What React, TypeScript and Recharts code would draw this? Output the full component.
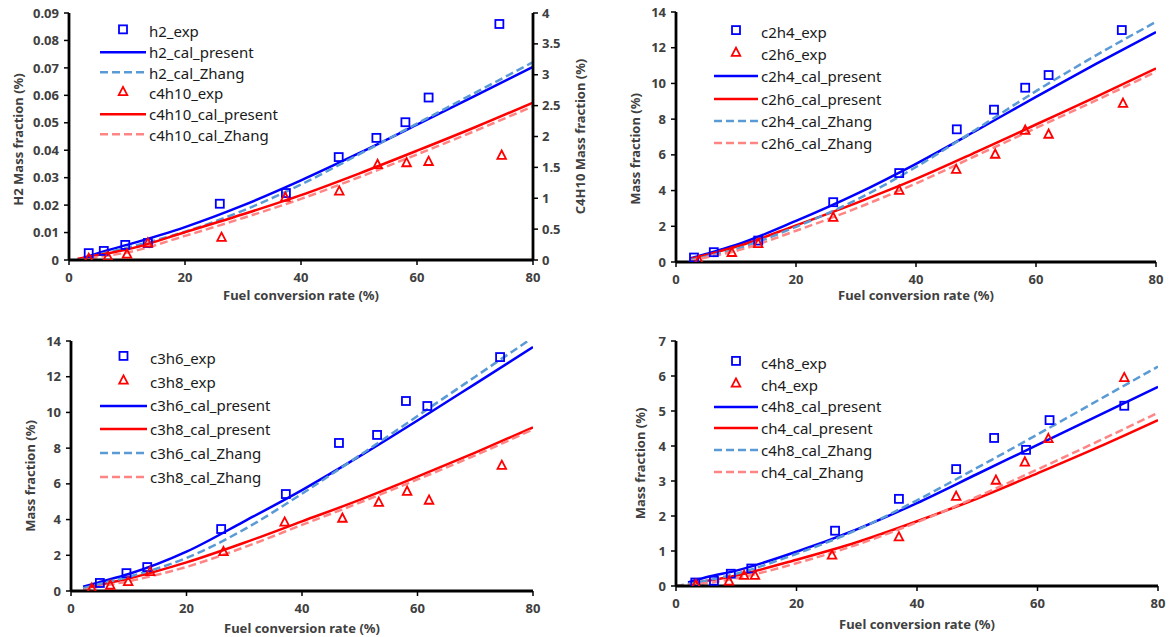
import React from "react";
import { ComposedChart, Legend, Line, Scatter, XAxis, YAxis } from "recharts";

const FONT = "'Noto Sans', 'DejaVu Sans', sans-serif";
const BLUE = "#0000ff";
const LBLUE = "#5b9bd5";
const RED = "#ff0000";
const PINK = "#ff8585";
const TXT = "#404040";

const X_TICKS = [0, 20, 40, 60, 80];

// (a) H2 (left axis) / C4H10 (right axis)
const H2_EXP_X = [3.4, 6.0, 9.7, 13.6, 26.0, 37.4, 46.5, 53.0, 58.0, 62.0, 74.2];
const H2_EXP_Y = [0.0025, 0.0033, 0.0055, 0.0062, 0.0205, 0.0244, 0.0375, 0.0445, 0.0502, 0.0592, 0.086];
const C4H10_EXP_X = [3.4, 6.7, 10.0, 13.6, 26.3, 37.3, 46.6, 53.2, 58.2, 62.0, 74.6];
const C4H10_EXP_Y = [0.03, 0.06, 0.1, 0.28, 0.37, 1.02, 1.12, 1.55, 1.58, 1.6, 1.7];
const CAL_X_A = [1.5, 5, 10, 20, 30, 40, 50, 60, 70, 80];
const H2_PRESENT = [0, 0.0025, 0.0055, 0.012, 0.0199, 0.029, 0.0389, 0.0493, 0.0598, 0.0704];
const H2_ZHANG = [0, 0.0019, 0.0045, 0.0103, 0.018, 0.0275, 0.0385, 0.0497, 0.0609, 0.0721];
const C4H10_PRESENT = [0.02, 0.08, 0.17, 0.45, 0.74, 1.05, 1.4, 1.77, 2.15, 2.55];
const C4H10_ZHANG = [0, 0.05, 0.12, 0.39, 0.68, 0.99, 1.34, 1.71, 2.09, 2.49];

// (b) C2H4 / C2H6
const C2H4_EXP_X = [3.0, 6.3, 13.7, 26.2, 37.2, 46.8, 53.0, 58.2, 62.1, 74.3];
const C2H4_EXP_Y = [0.25, 0.55, 1.2, 3.35, 4.98, 7.43, 8.53, 9.76, 10.47, 12.99];
const C2H6_EXP_X = [3.8, 9.3, 13.7, 26.2, 37.2, 46.7, 53.2, 58.2, 62.1, 74.5];
const C2H6_EXP_Y = [0.1, 0.55, 1.05, 2.52, 4.03, 5.2, 6.05, 7.39, 7.17, 8.9];
const CAL_X_B = [2.3, 5, 10, 20, 30, 40, 50, 60, 70, 80];
const C2H4_PRESENT = [0.2, 0.45, 0.95, 2.3, 3.8, 5.5, 7.35, 9.25, 11.1, 12.88];
const C2H4_ZHANG = [0.1, 0.3, 0.72, 1.97, 3.47, 5.32, 7.42, 9.57, 11.57, 13.45];
const C2H6_PRESENT = [0.15, 0.4, 0.85, 2.05, 3.3, 4.65, 6.15, 7.7, 9.25, 10.84];
const C2H6_ZHANG = [0.05, 0.25, 0.62, 1.75, 3.0, 4.4, 5.95, 7.5, 9.05, 10.65];

// (c) C3H6 / C3H8
const C3H6_EXP_X = [5.0, 9.6, 13.2, 26.0, 37.2, 46.4, 53.0, 58.0, 61.7, 74.3];
const C3H6_EXP_Y = [0.45, 1.0, 1.34, 3.47, 5.43, 8.29, 8.74, 10.64, 10.36, 13.1];
const C3H8_EXP_X = [3.6, 6.8, 9.9, 13.7, 26.4, 37.0, 47.0, 53.3, 58.2, 62.0, 74.6];
const C3H8_EXP_Y = [0.17, 0.34, 0.54, 1.1, 2.22, 3.87, 4.09, 4.98, 5.6, 5.1, 7.05];
const CAL_X_C = [2.1, 5, 10, 20, 30, 40, 50, 60, 70, 80];
const C3H6_PRESENT = [0.24, 0.5, 0.95, 2.2, 3.9, 5.65, 7.55, 9.55, 11.6, 13.66];
const C3H6_ZHANG = [0.15, 0.4, 0.8, 1.85, 3.45, 5.45, 7.6, 9.8, 12.0, 14.2];
const C3H8_PRESENT = [0.12, 0.35, 0.7, 1.6, 2.7, 3.9, 5.1, 6.4, 7.75, 9.16];
const C3H8_ZHANG = [0.05, 0.25, 0.55, 1.35, 2.45, 3.7, 4.95, 6.25, 7.6, 9.05];

// (d) C4H8 / CH4
const C4H8_EXP_X = [3.2, 6.3, 9.1, 12.5, 26.4, 37.0, 46.5, 52.8, 58.1, 62.0, 74.4];
const C4H8_EXP_Y = [0.1, 0.15, 0.35, 0.5, 1.58, 2.49, 3.34, 4.23, 3.89, 4.74, 5.15];
const CH4_EXP_X = [3.3, 8.8, 11.3, 13.1, 25.9, 37.0, 46.5, 53.1, 57.9, 61.8, 74.4];
const CH4_EXP_Y = [0.05, 0.15, 0.31, 0.31, 0.89, 1.41, 2.57, 3.03, 3.55, 4.22, 5.96];
const CAL_X_D = [2, 5, 10, 20, 30, 40, 50, 60, 70, 80];
const CAL_X_D_ZHANG = [0, 5, 10, 20, 30, 40, 50, 60, 70, 80];
const C4H8_PRESENT = [0.1, 0.25, 0.44, 0.98, 1.62, 2.37, 3.2, 4.03, 4.86, 5.69];
const C4H8_ZHANG = [0, 0.15, 0.35, 0.92, 1.6, 2.45, 3.38, 4.33, 5.3, 6.27];
const CH4_PRESENT = [0.05, 0.14, 0.3, 0.75, 1.25, 1.85, 2.5, 3.22, 3.96, 4.74];
const CH4_ZHANG = [0, 0.08, 0.22, 0.65, 1.18, 1.82, 2.55, 3.33, 4.13, 4.95];

type Marker = "square" | "triangle";
type Series = {
  name: string;
  xs: number[];
  ys: number[];
  color: string;
  dashed?: boolean;
  marker?: Marker;
  axis?: "left" | "right";
};

const zip = (xs: number[], ys: number[]) => xs.map((x, i) => ({ x, y: ys[i] }));

function MarkerShape({ cx, cy, kind, color }: { cx: number; cy: number; kind: Marker; color: string }) {
  if (kind === "square")
    return <rect x={cx - 4} y={cy - 4} width={8} height={8} fill="none" stroke={color} strokeWidth={1.8} />;
  return (
    <path
      d={`M${cx},${cy - 4.5}L${cx + 4.3},${cy + 3.8}L${cx - 4.3},${cy + 3.8}Z`}
      fill="none"
      stroke={color}
      strokeWidth={1.8}
    />
  );
}

const tickStyle = { fill: TXT, fontSize: 13, fontWeight: 700, fontFamily: FONT };
const titleStyle = { fill: TXT, fontSize: 13, fontWeight: 700, fontFamily: FONT };
const frameLine = { stroke: "#000", strokeWidth: 2.8 };
const tickLine = { stroke: "#000", strokeWidth: 1.5 };

interface PanelCfg {
  left: number;
  top: number;
  width: number;
  height: number;
  margin: { top: number; right: number; bottom: number; left: number };
  yWidth: number;
  xHeight: number;
  yMax: number;
  yTicks: number[];
  yFmt?: (v: number) => string;
  yTitle: string;
  yTitleX: number;
  yTitleDy: number;
  xTitleDy: number;
  right?: { max: number; ticks: number[]; title: string; titleX: number; width: number };
  legend: { left: number; top: number; rowH: number; iconW: number };
  series: Series[];
}

function LegendBox({ items, iconW, rowH }: { items: Series[]; iconW: number; rowH: number }) {
  return (
    <div style={{ fontFamily: FONT, fontSize: 15, color: "#1a1a1a" }}>
      {items.map((s) => (
        <div key={s.name} style={{ display: "flex", alignItems: "center", height: rowH, whiteSpace: "nowrap" }}>
          <svg width={iconW} height={rowH} style={{ flex: "none" }}>
            {s.marker ? (
              <MarkerShape cx={iconW / 2} cy={rowH / 2 - 2} kind={s.marker} color={s.color} />
            ) : (
              <line
                x1={0}
                x2={iconW}
                y1={rowH / 2}
                y2={rowH / 2}
                stroke={s.color}
                strokeWidth={2.5}
                strokeDasharray={s.dashed ? "8 4" : undefined}
              />
            )}
          </svg>
          <span style={{ marginLeft: 3 }}>{s.name}</span>
        </div>
      ))}
    </div>
  );
}

function Panel({ cfg }: { cfg: PanelCfg }) {
  const lines = cfg.series.filter((s) => !s.marker);
  const dots = cfg.series.filter((s) => s.marker);
  return (
    <div style={{ position: "absolute", left: cfg.left, top: cfg.top }}>
      <ComposedChart width={cfg.width} height={cfg.height} margin={cfg.margin}>
        <XAxis
          dataKey="x"
          type="number"
          domain={[0, 80]}
          ticks={X_TICKS}
          allowDataOverflow
          axisLine={frameLine}
          tickLine={tickLine}
          tickSize={5}
          tickMargin={8}
          tick={tickStyle}
          height={cfg.xHeight}
          label={{
            content: (p: any) => {
              const vb = p.viewBox;
              return (
                <text x={vb.x + vb.width / 2} y={vb.y + cfg.xTitleDy} textAnchor="middle" style={titleStyle}>
                  Fuel conversion rate (%)
                </text>
              );
            },
          }}
        />
        {/* top edge of the frame */}
        <XAxis
          xAxisId="top"
          orientation="top"
          type="number"
          domain={[0, 80]}
          height={0}
          axisLine={frameLine}
          tick={false}
          tickLine={false}
        />
        <YAxis
          yAxisId="left"
          type="number"
          domain={[0, cfg.yMax]}
          ticks={cfg.yTicks}
          tickFormatter={cfg.yFmt}
          allowDataOverflow
          width={cfg.yWidth}
          axisLine={frameLine}
          tickLine={tickLine}
          tickSize={5}
          tickMargin={5}
          tick={tickStyle}
          label={{
            content: (p: any) => {
              const vb = p.viewBox;
              const cy = vb.y + vb.height / 2 + cfg.yTitleDy;
              return (
                <text
                  x={cfg.yTitleX}
                  y={cy}
                  textAnchor="middle"
                  dominantBaseline="central"
                  transform={`rotate(-90, ${cfg.yTitleX}, ${cy})`}
                  style={titleStyle}
                >
                  {cfg.yTitle}
                </text>
              );
            },
          }}
        />
        {cfg.right ? (
          <YAxis
            yAxisId="right"
            orientation="right"
            type="number"
            domain={[0, cfg.right.max]}
            ticks={cfg.right.ticks}
            allowDataOverflow
            width={cfg.right.width}
            axisLine={frameLine}
            tickLine={tickLine}
            tickSize={5}
            tickMargin={4}
            tick={tickStyle}
            label={{
              content: (p: any) => {
                const vb = p.viewBox;
                const cy = vb.y + vb.height / 2;
                const cx = cfg.right!.titleX;
                return (
                  <text
                    x={cx}
                    y={cy}
                    textAnchor="middle"
                    dominantBaseline="central"
                    transform={`rotate(-90, ${cx}, ${cy})`}
                    style={titleStyle}
                  >
                    {cfg.right!.title}
                  </text>
                );
              },
            }}
          />
        ) : (
          <YAxis
            yAxisId="right"
            orientation="right"
            type="number"
            domain={[0, cfg.yMax]}
            width={0}
            axisLine={frameLine}
            tick={false}
            tickLine={false}
          />
        )}
        {lines.map((s) => (
          <Line
            key={s.name}
            yAxisId={s.axis ?? "left"}
            data={zip(s.xs, s.ys)}
            dataKey="y"
            type="monotone"
            stroke={s.color}
            strokeWidth={2.5}
            strokeDasharray={s.dashed ? "8 4" : undefined}
            dot={false}
            activeDot={false}
            isAnimationActive={false}
          />
        ))}
        {dots.map((s) => (
          <Scatter
            key={s.name}
            yAxisId={s.axis ?? "left"}
            data={zip(s.xs, s.ys)}
            dataKey="y"
            isAnimationActive={false}
            shape={(p: any) => <MarkerShape cx={p.cx} cy={p.cy} kind={s.marker!} color={s.color} />}
          />
        ))}
        <Legend
          layout="horizontal"
          align="center"
          verticalAlign="middle"
          content={() => <LegendBox items={cfg.series} iconW={cfg.legend.iconW} rowH={cfg.legend.rowH} />}
          wrapperStyle={{ left: cfg.legend.left, top: cfg.legend.top, width: "auto", bottom: "auto" }}
        />
      </ComposedChart>
    </div>
  );
}

const range = (n: number, step: number) => Array.from({ length: n }, (_, i) => +(i * step).toFixed(2));

const PANELS: PanelCfg[] = [
  {
    left: 0,
    top: 0,
    width: 600,
    height: 318,
    margin: { top: 13, right: 27, bottom: 13, left: 0 },
    yWidth: 69,
    xHeight: 45,
    yMax: 0.09,
    yTicks: range(10, 0.01),
    yFmt: (v) => (v === 0 ? "0" : v.toFixed(2)),
    yTitle: "H2 Mass fraction (%)",
    yTitleX: 18,
    yTitleDy: 3,
    xTitleDy: 40,
    right: { max: 4, ticks: range(9, 0.5), title: "C4H10 Mass fraction (%)", titleX: 580, width: 40 },
    legend: { left: 100, top: 21, rowH: 20.7, iconW: 46 },
    series: [
      { name: "h2_exp", xs: H2_EXP_X, ys: H2_EXP_Y, color: BLUE, marker: "square" },
      { name: "h2_cal_present", xs: CAL_X_A, ys: H2_PRESENT, color: BLUE },
      { name: "h2_cal_Zhang", xs: CAL_X_A, ys: H2_ZHANG, color: LBLUE, dashed: true },
      { name: "c4h10_exp", xs: C4H10_EXP_X, ys: C4H10_EXP_Y, color: RED, marker: "triangle", axis: "right" },
      { name: "c4h10_cal_present", xs: CAL_X_A, ys: C4H10_PRESENT, color: RED, axis: "right" },
      { name: "c4h10_cal_Zhang", xs: CAL_X_A, ys: C4H10_ZHANG, color: PINK, dashed: true, axis: "right" },
    ],
  },
  {
    left: 590,
    top: 0,
    width: 580,
    height: 318,
    margin: { top: 12, right: 14, bottom: 13, left: 0 },
    yWidth: 86,
    xHeight: 43,
    yMax: 14,
    yTicks: range(8, 2),
    yTitle: "Mass fraction (%)",
    yTitleX: 45,
    yTitleDy: 12,
    xTitleDy: 38,
    legend: { left: 124, top: 21, rowH: 22.2, iconW: 44 },
    series: [
      { name: "c2h4_exp", xs: C2H4_EXP_X, ys: C2H4_EXP_Y, color: BLUE, marker: "square" },
      { name: "c2h6_exp", xs: C2H6_EXP_X, ys: C2H6_EXP_Y, color: RED, marker: "triangle" },
      { name: "c2h4_cal_present", xs: CAL_X_B, ys: C2H4_PRESENT, color: BLUE },
      { name: "c2h6_cal_present", xs: CAL_X_B, ys: C2H6_PRESENT, color: RED },
      { name: "c2h4_cal_Zhang", xs: CAL_X_B, ys: C2H4_ZHANG, color: LBLUE, dashed: true },
      { name: "c2h6_cal_Zhang", xs: CAL_X_B, ys: C2H6_ZHANG, color: PINK, dashed: true },
    ],
  },
  {
    left: 0,
    top: 318,
    width: 600,
    height: 319,
    margin: { top: 23, right: 67, bottom: 6, left: 0 },
    yWidth: 71,
    xHeight: 40,
    yMax: 14,
    yTicks: range(8, 2),
    yTitle: "Mass fraction (%)",
    yTitleX: 30,
    yTitleDy: 10,
    xTitleDy: 42,
    legend: { left: 100, top: 28, rowH: 23.8, iconW: 47 },
    series: [
      { name: "c3h6_exp", xs: C3H6_EXP_X, ys: C3H6_EXP_Y, color: BLUE, marker: "square" },
      { name: "c3h8_exp", xs: C3H8_EXP_X, ys: C3H8_EXP_Y, color: RED, marker: "triangle" },
      { name: "c3h6_cal_present", xs: CAL_X_C, ys: C3H6_PRESENT, color: BLUE },
      { name: "c3h8_cal_present", xs: CAL_X_C, ys: C3H8_PRESENT, color: RED },
      { name: "c3h6_cal_Zhang", xs: CAL_X_C, ys: C3H6_ZHANG, color: LBLUE, dashed: true },
      { name: "c3h8_cal_Zhang", xs: CAL_X_C, ys: C3H8_ZHANG, color: PINK, dashed: true },
    ],
  },
  {
    left: 590,
    top: 318,
    width: 580,
    height: 319,
    margin: { top: 23, right: 12, bottom: 6, left: 0 },
    yWidth: 86,
    xHeight: 45,
    yMax: 7,
    yTicks: range(8, 1),
    yTitle: "Mass fraction (%)",
    yTitleX: 50,
    yTitleDy: 0,
    xTitleDy: 43,
    legend: { left: 124, top: 34, rowH: 21.8, iconW: 44 },
    series: [
      { name: "c4h8_exp", xs: C4H8_EXP_X, ys: C4H8_EXP_Y, color: BLUE, marker: "square" },
      { name: "ch4_exp", xs: CH4_EXP_X, ys: CH4_EXP_Y, color: RED, marker: "triangle" },
      { name: "c4h8_cal_present", xs: CAL_X_D, ys: C4H8_PRESENT, color: BLUE },
      { name: "ch4_cal_present", xs: CAL_X_D, ys: CH4_PRESENT, color: RED },
      { name: "c4h8_cal_Zhang", xs: CAL_X_D_ZHANG, ys: C4H8_ZHANG, color: LBLUE, dashed: true },
      { name: "ch4_cal_Zhang", xs: CAL_X_D_ZHANG, ys: CH4_ZHANG, color: PINK, dashed: true },
    ],
  },
];

export default function App() {
  return (
    <div style={{ position: "fixed", left: 0, top: 0, width: 1170, height: 637, background: "#fff" }}>
      {PANELS.map((cfg, i) => (
        <Panel key={i} cfg={cfg} />
      ))}
    </div>
  );
}
